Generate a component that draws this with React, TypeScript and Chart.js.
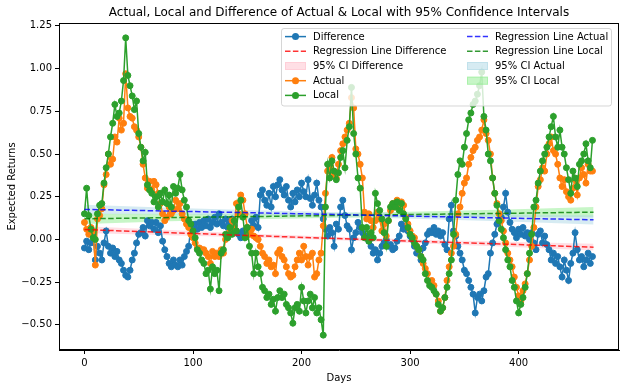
import React, { useEffect, useRef } from 'react';
import { Chart, registerables } from 'chart.js';

Chart.register(...registerables);

// ---- data (one value every DAY_STEP days, starting at day 0) ----
const DAY_STEP = 2;

const localValues = [
  0.15, 0.30, 0.14, 0.06, 0.01, 0.00, 0.15, 0.20, 0.21, 0.33,
  0.42, 0.50, 0.60, 0.68, 0.79, 0.72, 0.74, 0.81, 0.93, 1.18,
  0.96, 0.90, 0.84, 0.76, 0.81, 0.62, 0.54, 0.46, 0.51, 0.32,
  0.29, 0.27, 0.22, 0.25, 0.19, 0.27, 0.22, 0.29, 0.21, 0.26,
  0.19, 0.31, 0.27, 0.30, 0.38, 0.29, 0.23, 0.19, 0.11, 0.09,
  0.05, 0.01, -0.06, -0.08, -0.12, -0.14, -0.20, -0.18, -0.29, -0.16,
  -0.20, -0.18, -0.30, -0.08, -0.06, 0.03, 0.01, 0.07, 0.03, 0.11,
  0.05, 0.19, 0.23, 0.13, 0.01, 0.07, -0.04, -0.08, -0.20, -0.08,
  -0.16, -0.20, -0.28, -0.30, -0.34, -0.32, -0.38, -0.35, -0.42, -0.34,
  -0.30, -0.34, -0.32, -0.38, -0.40, -0.43, -0.49, -0.40, -0.38, -0.42,
  -0.28, -0.36, -0.43, -0.36, -0.32, -0.40, -0.34, -0.43, -0.40, -0.47,
  -0.56, 0.19, 0.44, 0.36, 0.46, 0.40, 0.35, 0.39, 0.48, 0.52,
  0.42, 0.58, 0.66, 0.89, 0.62, 0.50, 0.36, 0.30, 0.07, 0.01,
  0.07, -0.01, 0.04, 0.01, 0.27, 0.21, 0.17, 0.12, 0.04, -0.04,
  0.11, 0.19, 0.21, 0.19, 0.22, 0.17, 0.21, 0.15, 0.12, 0.07,
  0.03, 0.01, -0.02, -0.04, -0.06, -0.10, -0.12, -0.20, -0.24, -0.27,
  -0.28, -0.30, -0.32, -0.38, -0.42, -0.40, -0.34, -0.28, -0.20, -0.12,
  0.03, 0.23, 0.38, 0.46, 0.44, 0.54, 0.62, 0.70, 0.74, 0.79,
  0.81, 0.85, 0.90, 0.98, 0.72, 0.64, 0.50, 0.46, 0.36, 0.27,
  0.20, 0.11, 0.06, 0.01, -0.06, -0.12, -0.16, -0.24, -0.28, -0.36,
  -0.43, -0.38, -0.34, -0.28, -0.20, -0.08, 0.03, 0.19, 0.23, 0.33,
  0.40, 0.46, 0.50, 0.54, 0.60, 0.66, 0.72, 0.60, 0.54, 0.64,
  0.54, 0.50, 0.42, 0.35, 0.27, 0.40, 0.36, 0.31, 0.44, 0.46,
  0.50, 0.56, 0.46, 0.42, 0.58,
];

const actualValues = [
  0.10, 0.06, 0.03, 0.07, 0.05, -0.15, 0.12, 0.14, 0.18, 0.32,
  0.38, 0.50, 0.44, 0.47, 0.60, 0.57, 0.71, 0.64, 0.68, 0.97,
  0.77, 0.72, 0.71, 0.66, 0.64, 0.60, 0.54, 0.44, 0.36, 0.30,
  0.34, 0.29, 0.34, 0.32, 0.27, 0.21, 0.15, 0.11, 0.13, 0.19,
  0.15, 0.17, 0.23, 0.18, 0.21, 0.15, 0.12, 0.09, 0.07, 0.03,
  0.01, -0.02, -0.05, -0.05, -0.06, -0.06, -0.08, -0.10, -0.14, -0.07,
  -0.10, -0.08, -0.10, -0.06, -0.08, 0.00, 0.03, 0.05, 0.11, 0.07,
  0.21, 0.15, 0.26, 0.23, 0.15, 0.07, 0.03, 0.06, 0.02, 0.01,
  0.00, -0.04, -0.08, -0.10, -0.14, -0.12, -0.16, -0.15, -0.20, -0.08,
  -0.06, -0.10, -0.12, -0.16, -0.20, -0.22, -0.21, -0.16, -0.12, -0.08,
  -0.12, -0.04, -0.10, -0.15, -0.10, -0.08, -0.22, -0.20, -0.12, -0.08,
  0.08, 0.27, 0.40, 0.42, 0.48, 0.38, 0.36, 0.44, 0.52, 0.56,
  0.60, 0.64, 0.68, 0.83, 0.77, 0.53, 0.50, 0.44, 0.36, 0.16,
  0.12, 0.15, 0.11, 0.07, 0.11, 0.16, 0.12, 0.05, 0.09, 0.02,
  0.11, 0.17, 0.21, 0.19, 0.23, 0.21, 0.22, 0.20, 0.13, 0.09,
  0.05, 0.02, 0.01, -0.04, -0.06, -0.10, -0.14, -0.17, -0.20, -0.25,
  -0.24, -0.27, -0.32, -0.36, -0.42, -0.40, -0.34, -0.24, -0.16, -0.08,
  -0.04, 0.03, 0.15, 0.19, 0.27, 0.33, 0.36, 0.44, 0.48, 0.52,
  0.54, 0.58, 0.60, 0.64, 0.70, 0.62, 0.58, 0.50, 0.36, 0.27,
  0.21, 0.15, 0.11, 0.05, -0.02, -0.08, -0.12, -0.16, -0.22, -0.28,
  -0.33, -0.36, -0.30, -0.26, -0.20, -0.12, -0.04, 0.07, 0.19, 0.31,
  0.35, 0.42, 0.40, 0.50, 0.56, 0.60, 0.52, 0.50, 0.44, 0.36,
  0.31, 0.35, 0.28, 0.25, 0.23, 0.30, 0.35, 0.26, 0.36, 0.42,
  0.38, 0.33, 0.44, 0.40, 0.40,
];

const differenceValues = [
  -0.05, -0.01, -0.06, -0.02, 0.02, -0.12, -0.04, -0.08, -0.12, -0.02,
  0.05, -0.04, -0.08, -0.05, -0.10, -0.07, -0.12, -0.14, -0.18, -0.21,
  -0.22, -0.18, -0.12, -0.08, -0.02, 0.03, 0.04, 0.07, 0.02, 0.11,
  0.08, 0.10, 0.06, 0.10, 0.04, 0.08, -0.01, -0.06, -0.10, -0.14,
  -0.16, -0.12, -0.15, -0.16, -0.12, -0.15, -0.10, -0.07, -0.04, 0.07,
  0.04, 0.09, 0.06, 0.10, 0.07, 0.11, 0.08, 0.12, 0.07, 0.10,
  0.13, 0.09, 0.15, 0.10, 0.08, 0.12, 0.07, 0.10, 0.12, 0.08,
  0.05, 0.03, 0.01, 0.05, 0.02, 0.07, 0.04, 0.11, 0.08, 0.13,
  0.07, 0.26, 0.29, 0.23, 0.20, 0.27, 0.19, 0.31, 0.25, 0.32,
  0.35, 0.29, 0.26, 0.31, 0.23, 0.19, 0.27, 0.22, 0.29, 0.25,
  0.33, 0.28, 0.25, 0.35, 0.24, 0.20, 0.26, 0.33, 0.23, 0.19,
  0.12, 0.06, 0.02, 0.07, 0.04, -0.04, 0.09, 0.06, 0.19, 0.23,
  0.14, 0.08, 0.06, -0.06, 0.01, 0.04, 0.10, 0.07, 0.04, 0.02,
  0.02, -0.01, -0.04, -0.08, -0.06, -0.12, -0.08, -0.04, -0.02, 0.00,
  -0.04, -0.03, -0.06, -0.05, -0.01, 0.02, 0.09, 0.06, 0.08, 0.05,
  0.02, 0.00, -0.04, -0.08, -0.06, -0.12, -0.05, -0.02, 0.03, 0.05,
  0.04, 0.07, 0.03, 0.05, 0.02, 0.04, -0.03, -0.06, 0.12, 0.20,
  0.05, 0.02, -0.04, -0.08, -0.12, -0.18, -0.20, -0.24, -0.28, -0.32,
  -0.43, -0.34, -0.32, -0.36, -0.30, -0.22, -0.20, -0.08, -0.02, 0.03,
  0.09, 0.11, 0.13, 0.19, 0.27, 0.16, 0.10, 0.06, 0.04, 0.01,
  0.06, 0.03, 0.07, 0.02, 0.04, 0.00, 0.04, -0.02, -0.06, 0.03,
  0.05, -0.02, 0.02, -0.03, -0.06, -0.12, -0.08, -0.14, -0.10, -0.16,
  -0.22, -0.12, -0.18, -0.24, -0.14, -0.08, 0.04, -0.06, -0.12, -0.10,
  -0.16, -0.12, -0.08, -0.14, -0.10,
];

// regression fits and 95% CI half-widths, sampled at fitDays
const fitDays = [0, 78, 156, 234, 312, 390, 469];
const actualFit = [0.176, 0.166, 0.156, 0.146, 0.135, 0.125, 0.115];
const localFit = [0.121, 0.128, 0.134, 0.141, 0.147, 0.153, 0.160];
const differenceFit = [0.058, 0.040, 0.022, 0.005, -0.012, -0.028, -0.045];
const actualCI = [0.027, 0.020, 0.015, 0.013, 0.015, 0.020, 0.027];
const localCI = [0.030, 0.022, 0.016, 0.014, 0.016, 0.022, 0.030];
const differenceCI = [0.020, 0.015, 0.011, 0.010, 0.011, 0.015, 0.020];

const xTicks = [0, 100, 200, 300, 400];
const yTicks = [-0.5, -0.25, 0, 0.25, 0.5, 0.75, 1.0, 1.25];

const X_MIN = -23.45;
const X_MAX = 492.45;
const Y_MIN = -0.647;
const Y_MAX = 1.267;

const TITLE = 'Actual, Local and Difference of Actual & Local with 95% Confidence Intervals';
const X_LABEL = 'Days';
const Y_LABEL = 'Expected Returns';

const C_DIFF = '#1f77b4';
const C_ACT = '#ff7f0e';
const C_LOC = '#2ca02c';
const C_REG_DIFF = 'rgba(255,0,0,0.8)';
const C_REG_ACT = 'rgba(0,0,255,0.8)';
const C_REG_LOC = 'rgba(0,128,0,0.8)';
const C_CI_DIFF = 'rgba(255,192,203,0.5)';
const C_CI_ACT = 'rgba(173,216,230,0.5)';
const C_CI_LOC = 'rgba(144,238,144,0.5)';

const FONT = '"DejaVu Sans", "Liberation Sans", sans-serif';
const DASH = [5.5, 2.4];

const toPoints = (vals: number[]) => vals.map((v, i) => ({ x: i * DAY_STEP, y: v }));
const fitPoints = (vals: number[], half?: number[], sign = 0) =>
  fitDays.map((d, i) => ({ x: d, y: vals[i] + sign * (half ? half[i] : 0) }));

const dataLine = (label: string, vals: number[], color: string, order: number) => ({
  label,
  data: toPoints(vals),
  borderColor: color,
  backgroundColor: color,
  borderWidth: 1.5,
  pointRadius: 3,
  pointBorderWidth: 1,
  pointBackgroundColor: color,
  pointBorderColor: color,
  fill: false,
  tension: 0,
  order,
});

const bandPair = (label: string, fit: number[], half: number[], color: string) => [
  {
    label: label + ' lower',
    data: fitPoints(fit, half, -1),
    borderColor: 'rgba(0,0,0,0)',
    borderWidth: 0,
    pointRadius: 0,
    fill: false,
    order: 10,
  },
  {
    label: label + ' upper',
    data: fitPoints(fit, half, 1),
    borderColor: 'rgba(0,0,0,0)',
    borderWidth: 0,
    pointRadius: 0,
    backgroundColor: color,
    fill: '-1',
    order: 10,
  },
];

const regLine = (label: string, fit: number[], color: string) => ({
  label,
  data: fitPoints(fit),
  borderColor: color,
  borderWidth: 1.5,
  borderDash: DASH,
  pointRadius: 0,
  fill: false,
  order: 1,
});

type LegendItem = { label: string; kind: 'marker' | 'dash' | 'patch'; color: string };
const legendCol1: LegendItem[] = [
  { label: 'Difference', kind: 'marker', color: C_DIFF },
  { label: 'Regression Line Difference', kind: 'dash', color: C_REG_DIFF },
  { label: '95% CI Difference', kind: 'patch', color: C_CI_DIFF },
  { label: 'Actual', kind: 'marker', color: C_ACT },
  { label: 'Local', kind: 'marker', color: C_LOC },
];
const legendCol2: LegendItem[] = [
  { label: 'Regression Line Actual', kind: 'dash', color: C_REG_ACT },
  { label: 'Regression Line Local', kind: 'dash', color: C_REG_LOC },
  { label: '95% CI Actual', kind: 'patch', color: C_CI_ACT },
  { label: '95% CI Local', kind: 'patch', color: C_CI_LOC },
];

const decorPlugin = {
  id: 'decor',
  afterDraw(chart: any) {
    const ctx: CanvasRenderingContext2D = chart.ctx;
    const a = chart.chartArea;
    ctx.save();
    // frame
    ctx.strokeStyle = '#000';
    ctx.lineWidth = 1;
    ctx.strokeRect(Math.round(a.left) + 0.5, Math.round(a.top) + 0.5, Math.round(a.right - a.left) - 1, Math.round(a.bottom - a.top) - 1);

    // title and axis labels
    ctx.fillStyle = '#000';
    ctx.textAlign = 'center';
    ctx.textBaseline = 'middle';
    ctx.font = `12px ${FONT}`;
    const cx = (a.left + a.right) / 2;
    ctx.fillText(TITLE, cx, 12.5);
    ctx.font = `10px ${FONT}`;
    ctx.fillText(X_LABEL, cx, 378);
    ctx.save();
    ctx.translate(12.5, (a.top + a.bottom) / 2);
    ctx.rotate(-Math.PI / 2);
    ctx.fillText(Y_LABEL, 0, 0);
    ctx.restore();

    // legend
    const bx = 281.5, by = 28.5, bw = 330, bh = 77.5, r = 2.5;
    ctx.beginPath();
    ctx.moveTo(bx + r, by);
    ctx.lineTo(bx + bw - r, by);
    ctx.arcTo(bx + bw, by, bx + bw, by + r, r);
    ctx.lineTo(bx + bw, by + bh - r);
    ctx.arcTo(bx + bw, by + bh, bx + bw - r, by + bh, r);
    ctx.lineTo(bx + r, by + bh);
    ctx.arcTo(bx, by + bh, bx, by + bh - r, r);
    ctx.lineTo(bx, by + r);
    ctx.arcTo(bx, by, bx + r, by, r);
    ctx.closePath();
    ctx.fillStyle = 'rgba(255,255,255,0.8)';
    ctx.fill();
    ctx.strokeStyle = 'rgba(204,204,204,0.8)';
    ctx.lineWidth = 1;
    ctx.stroke();

    const rowY = (i: number) => 36.6 + i * 14.7;
    const drawItem = (it: LegendItem, hx: number, tx: number, y: number) => {
      if (it.kind === 'marker') {
        ctx.setLineDash([]);
        ctx.strokeStyle = it.color;
        ctx.lineWidth = 1.5;
        ctx.beginPath();
        ctx.moveTo(hx, y);
        ctx.lineTo(hx + 21, y);
        ctx.stroke();
        ctx.fillStyle = it.color;
        ctx.beginPath();
        ctx.arc(hx + 10.5, y, 3.5, 0, Math.PI * 2);
        ctx.fill();
      } else if (it.kind === 'dash') {
        ctx.setLineDash(DASH);
        ctx.strokeStyle = it.color;
        ctx.lineWidth = 1.5;
        ctx.beginPath();
        ctx.moveTo(hx, y);
        ctx.lineTo(hx + 21, y);
        ctx.stroke();
        ctx.setLineDash([]);
      } else {
        ctx.fillStyle = it.color;
        ctx.fillRect(hx, y - 4, 21, 8);
        ctx.strokeStyle = it.color;
        ctx.lineWidth = 1;
        ctx.strokeRect(hx + 0.5, y - 3.5, 20, 7);
      }
      ctx.fillStyle = '#000';
      ctx.font = `10px ${FONT}`;
      ctx.textAlign = 'left';
      ctx.textBaseline = 'middle';
      ctx.fillText(it.label, tx, y + 0.5);
    };
    legendCol1.forEach((it, i) => drawItem(it, 285, 313, rowY(i)));
    legendCol2.forEach((it, i) => drawItem(it, 467, 495, rowY(i)));
    ctx.restore();
  },
};

export default function App() {
  const ref = useRef<HTMLCanvasElement>(null);
  useEffect(() => {
    if (!ref.current) return;
    Chart.defaults.font.family = FONT;
    Chart.defaults.font.size = 10;
    Chart.defaults.color = '#000';
    const chart = new Chart(ref.current, {
      type: 'line',
      data: {
        datasets: [
          ...bandPair('95% CI Difference', differenceFit, differenceCI, C_CI_DIFF),
          ...bandPair('95% CI Actual', actualFit, actualCI, C_CI_ACT),
          ...bandPair('95% CI Local', localFit, localCI, C_CI_LOC),
          dataLine('Difference', differenceValues, C_DIFF, 5),
          dataLine('Actual', actualValues, C_ACT, 4),
          dataLine('Local', localValues, C_LOC, 3),
          regLine('Regression Line Difference', differenceFit, C_REG_DIFF),
          regLine('Regression Line Actual', actualFit, C_REG_ACT),
          regLine('Regression Line Local', localFit, C_REG_LOC),
        ] as any,
      },
      options: {
        responsive: false,
        animation: false,
        devicePixelRatio: 1,
        events: [],
        layout: { padding: { left: 0, right: 5, top: 23, bottom: 0 } },
        plugins: {
          legend: { display: false },
          title: { display: false },
          tooltip: { enabled: false },
        },
        scales: {
          x: {
            type: 'linear',
            position: 'bottom',
            min: X_MIN,
            max: X_MAX,
            afterBuildTicks: (axis: any) => {
              axis.ticks = xTicks.map((v) => ({ value: v }));
            },
            afterFit: (axis: any) => {
              axis.height = 37;
            },
            ticks: {
              autoSkip: false,
              maxRotation: 0,
              padding: 3,
              color: '#000',
              font: { size: 10, family: FONT },
              callback: (v: any) => String(v),
            },
            grid: { display: true, drawOnChartArea: false, drawTicks: true, tickLength: 4, color: '#000' },
            border: { display: true, color: '#000', width: 1 },
          },
          y: {
            type: 'linear',
            min: Y_MIN,
            max: Y_MAX,
            afterBuildTicks: (axis: any) => {
              axis.ticks = yTicks.map((v) => ({ value: v }));
            },
            afterFit: (axis: any) => {
              axis.width = 59;
            },
            ticks: {
              autoSkip: false,
              padding: 3,
              color: '#000',
              font: { size: 10, family: FONT },
              callback: (v: any) => {
                const n = Number(v);
                const s = Math.abs(n).toFixed(2);
                return n < 0 ? '\u2212' + s : s;
              },
            },
            grid: { display: true, drawOnChartArea: false, drawTicks: true, tickLength: 4, color: '#000' },
            border: { display: true, color: '#000', width: 1 },
          },
        },
      },
      plugins: [decorPlugin],
    } as any);
    return () => chart.destroy();
  }, []);
  return (
    <div style={{ position: 'fixed', left: 0, top: 0, width: 624, height: 387, background: '#fff' }}>
      <canvas ref={ref} width={624} height={387} style={{ display: 'block' }} />
    </div>
  );
}
